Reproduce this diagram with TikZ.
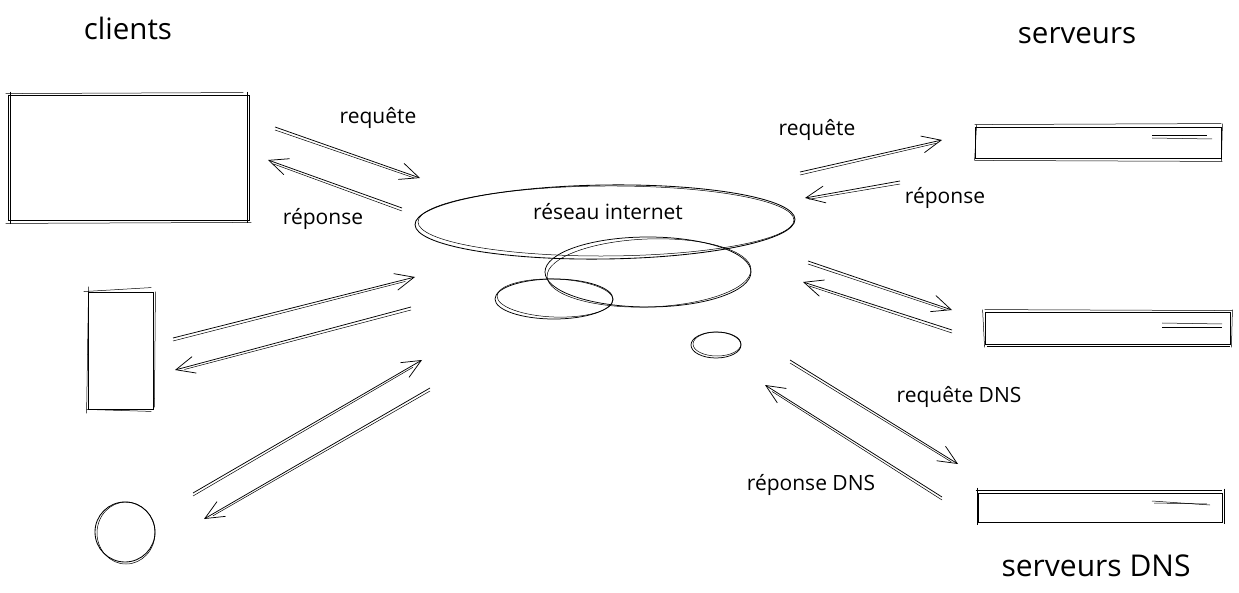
\documentclass[tikz,border=0pt]{standalone}
\usepackage{fontspec}
\setmainfont{Open Sans}
\usetikzlibrary{arrows.meta,calc,shapes.geometric}
\begin{document}
\begin{tikzpicture}[x=1pt,y=-1pt,
  ln/.style={line width=0.75pt, black},
  ln2/.style={line width=0.5pt, black},
  ar/.style={ln, -{Straight Barb[length=19pt,width=17pt,line width=0.75pt]}},
  box/.style={draw, line width=0.85pt, inner sep=0pt},
  lbl/.style={font=\fontsize{21}{24}\selectfont, inner sep=0pt},
  ttl/.style={font=\fontsize{29.5}{34}\selectfont, inner sep=0pt},
  ttlb/.style={font=\fontsize{30}{34}\selectfont, inner sep=0pt}]
\useasboundingbox (0,0) rectangle (1239,593);

% titles
\node[ttl] (tcl) at (128,28) {clients};
\node[ttl] (tsv) at (1077,36) {serveurs};
\node[ttlb] (tdns) at (1096,566) {serveurs DNS};

% clients
\node[box, minimum width=241pt, minimum height=125pt] (c1) at (128.5,157.5) {};
\draw[ln2] ($(c1.north west)+(-2,-1)$) -- ($(c1.north east)+(-6,-2)$);
\draw[ln2] ($(c1.north west)+(3,-3)$) -- ($(c1.south west)+(3,4)$);
\draw[ln2] ($(c1.south west)+(-2,3)$) -- ($(c1.south east)+(2,2)$);
\draw[ln2] ($(c1.north east)+(-2,-3)$) -- ($(c1.south east)+(-2,3)$);

\node[box, minimum width=65pt, minimum height=117pt] (c2) at (120.5,350.5) {};
\draw[ln2] ($(c2.north west)+(-4,0)$) -- ($(c2.north east)+(-2,-4)$);
\draw[ln2] ($(c2.north west)+(1,-5)$) -- ($(c2.south west)+(-1,4)$);
\draw[ln2] ($(c2.south west)+(-1,0)$) -- ($(c2.south east)+(-2,2)$);
\draw[ln2] ($(c2.north east)+(2,0)$) -- ($(c2.south east)+(1,-2)$);

\node[box, circle, minimum size=60pt] (c3) at (125,532) {};
\draw[ln2] (126,533) ellipse[x radius=29, y radius=31];

% servers
\node[box, minimum width=246pt, minimum height=31pt] (s1) at (1098,142.5) {};
\draw[ln2] ($(s1.north west)+(0,-2)$) -- ($(s1.north east)+(0,-3)$);
\draw[ln2] ($(s1.south west)+(0,2)$) -- ($(s1.south east)+(1,3)$);
\draw[ln2] ($(s1.north west)+(2,-2)$) -- ($(s1.south west)+(0,2)$);
\draw[ln2] ($(s1.north east)+(1,-3)$) -- ($(s1.south east)+(0,3)$);
\draw[ln2] (1152,135) -- (1207,135);
\draw[ln2] (1152,138) -- (1212,139);

\node[box, minimum width=245pt, minimum height=32pt] (s2) at (1107.5,328) {};
\draw[ln2] ($(s2.north west)+(0,-2)$) -- ($(s2.north east)+(2,-1)$);
\draw[ln2] ($(s2.south west)+(2,2)$) -- ($(s2.south east)+(0,2)$);
\draw[ln2] ($(s2.north west)+(-2,-2)$) -- ($(s2.south west)+(0,3)$);
\draw[ln2] ($(s2.north east)+(2,-2)$) -- ($(s2.south east)+(1,3)$);
\draw[ln2] (1162,323) -- (1222,324);
\draw[ln2] (1162,327) -- (1222,327);

\node[box, minimum width=244pt, minimum height=29pt] (s3) at (1100,507.5) {};
\draw[ln2] ($(s3.north west)+(-2,-2)$) -- ($(s3.north east)+(0,-2)$);
\draw[ln2] ($(s3.north west)+(0,-5)$) -- ($(s3.south west)+(0,3)$);
\draw[ln2] ($(s3.north east)+(2,-4)$) -- ($(s3.south east)+(2,2)$);
\draw[ln2] (1152,501) -- (1210,505);
\draw[ln2] (1154,503) -- (1207,504);

% cloud
\node[draw, ellipse, line width=0.85pt, minimum width=380pt, minimum height=74pt, inner sep=0pt, rotate=0.8] (net) at (605,222) {};
\draw[ln2, rotate around={0.3:(605,222)}] (606,221) ellipse[x radius=188, y radius=35];
\node[lbl] (tnet) at (608,212) {réseau internet};
\draw[ln] (648,272) ellipse[x radius=103, y radius=35];
\draw[ln2, rotate around={2:(648,272)}] (649,273) ellipse[x radius=102, y radius=34];
\draw[ln] (554,299) ellipse[x radius=59, y radius=20];
\draw[ln2, rotate around={-2:(554,299)}] (555,298) ellipse[x radius=58, y radius=19];
\draw[ln] (716,345) ellipse[x radius=25, y radius=13];
\draw[ln2] (717,344) ellipse[x radius=24, y radius=12];

% coordinates of connector ends
\coordinate (a1s) at (275,127); \coordinate (a1e) at (420,178);
\coordinate (b1s) at (402,208); \coordinate (b1e) at (268,160);
\coordinate (a2s) at (173,338); \coordinate (a2e) at (415,277);
\coordinate (b2s) at (411,307); \coordinate (b2e) at (175,370);
\coordinate (a3s) at (193,493); \coordinate (a3e) at (422,360);
\coordinate (b3s) at (430,388); \coordinate (b3e) at (204,519);
\coordinate (a4s) at (800,172); \coordinate (a4e) at (942,140);
\coordinate (b4s) at (900,181); \coordinate (b4e) at (805,198);
\coordinate (a5s) at (808,261); \coordinate (a5e) at (952,310);
\coordinate (b5s) at (952,330); \coordinate (b5e) at (803,282);
\coordinate (a6s) at (790,360); \coordinate (a6e) at (958,464);
\coordinate (b6s) at (942,497); \coordinate (b6e) at (765,385);

\foreach \p in {a1,b1,a2,b2,a3,b3,a4,b4,a5,b5,a6,b6}{
  \draw[ar] (\p s) -- (\p e);
  \draw[ln2] ($(\p s)+(0,3)$) -- ($(\p e)!0.04!(\p s)+(0,2)$);
}

% labels
\node[lbl] (lq1) at (378,118) {requête};
\node[lbl] (lr1) at (323,219) {réponse};
\node[lbl] (lq2) at (817,130) {requête};
\node[lbl] (lr2) at (945,198) {réponse};
\node[lbl] (lq3) at (959,397) {requête DNS};
\node[lbl] (lr3) at (811,485) {réponse DNS};
\end{tikzpicture}
\end{document}
